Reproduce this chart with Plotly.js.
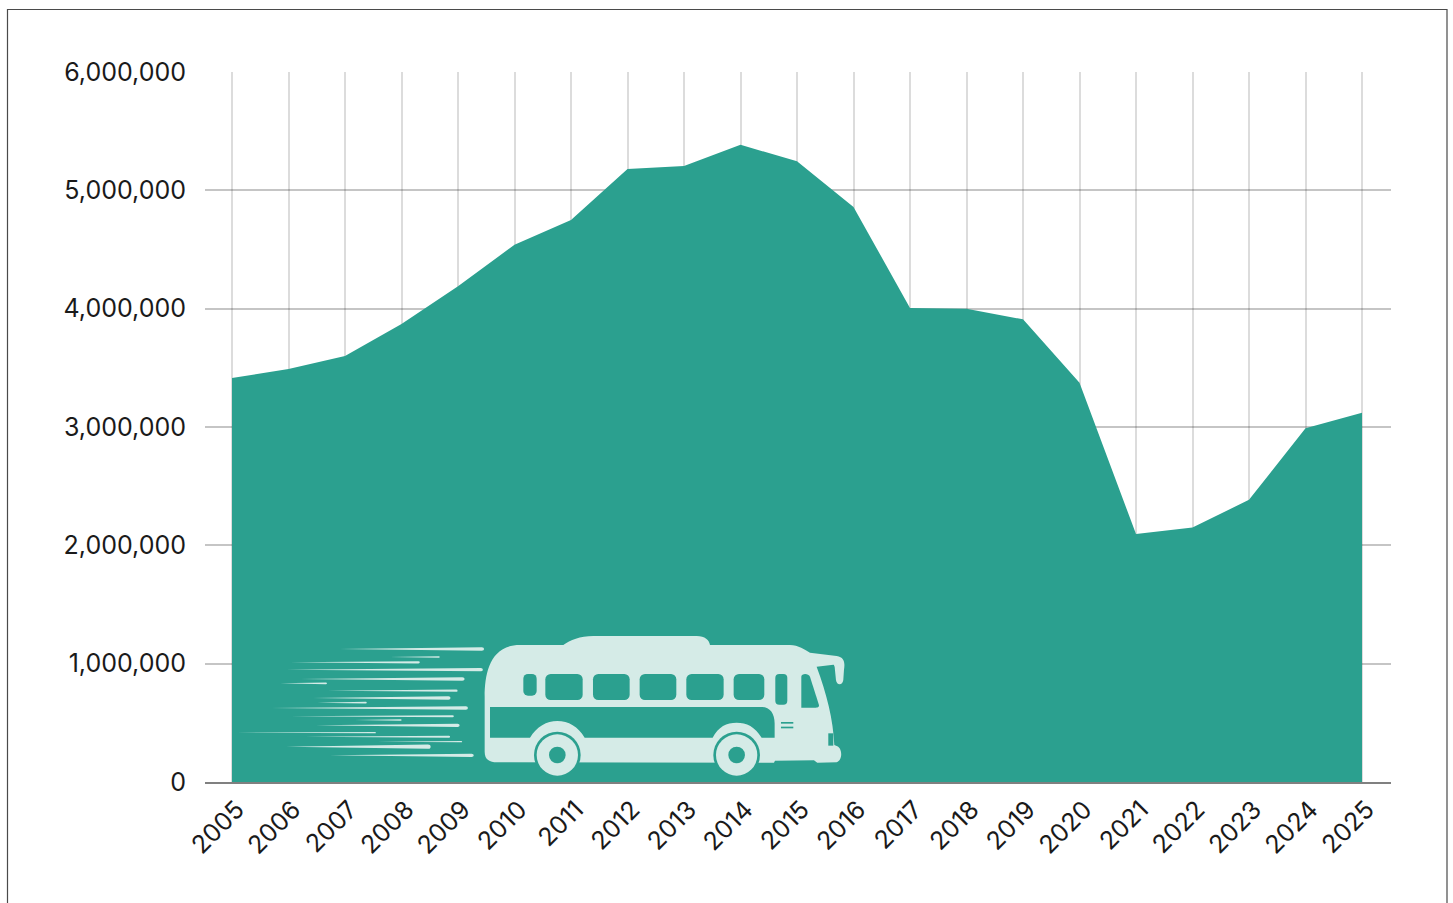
<!DOCTYPE html>
<html>
<head>
<meta charset="utf-8">
<script src="https://cdn.plot.ly/plotly-3.0.1.min.js"></script>
<style>html,body{margin:0;padding:0;background:#fff;overflow:hidden}#chart{width:1453px;height:903px}</style>
</head>
<body>
<div id="chart"></div>
<script>
const years = [2005,2006,2007,2008,2009,2010,2011,2012,2013,2014,2015,2016,2017,2018,2019,2020,2021,2022,2023,2024,2025];
const riders = [3414000,3490000,3600000,3870000,4190000,4540000,4750000,5180000,5205000,5385000,5245000,4860000,4006000,4000000,3910000,3375000,2095000,2150000,2385000,2990000,3120000];
const yTicks = [0,1000000,2000000,3000000,4000000,5000000,6000000];
const yLabels = ['0','1,000,000','2,000,000','3,000,000','4,000,000','5,000,000','6,000,000'];

const W = 1453, H = 903, L = 205, R = 1391, T = 72, B = 782;
const PW = R - L, PH = B - T;
const TEAL = '#2ba08f', PALE = '#d5ebe7';

// Decorative bus illustration (not data)
const streaks = [[290,637,87,11],[410,530,111,4],[170,482,127,7],[160,634,149,10],[195,590,177,11],[145,258,190,5],
  [260,573,212,7],[225,556,234,10],[235,354,248,5],[125,598,264,10],[170,564,289,6],[325,438,300,4],[230,578,316,10],
  [40,376,338,4],[205,555,350,6],[380,584,365,4],[160,508,380,13],[265,612,406,10]];
const streakSvg = streaks.map(([a,b,y,t]) => {
  const h = t/2;
  return `<path d="M${a} ${y} L${b-h} ${y-h} A${h} ${h} 0 0 1 ${b-h} ${y+h} Z"/>`;
}).join('');
const windows = [[130,132,40,65,14],[196,132,112,78,16],[339,132,110,78,16],[479,132,110,78,16],[619,132,112,78,16],[761,132,92,78,16],[886,132,36,92,12]];
const winSvg = windows.map(([x,y,w,h,r]) => `<rect x="${x}" y="${y}" width="${w}" height="${h}" rx="${r}"/>`).join('');
const wheel = cx => `<circle cx="${cx}" cy="375" r="70" fill="${TEAL}"/><circle cx="${cx}" cy="375" r="62" fill="${PALE}"/><circle cx="${cx}" cy="375" r="25" fill="${TEAL}"/>`;
const body = 'M14 365 L14 200 C14 130 30 45 120 45 L250 45 C270 30 300 18 340 18 L650 18 C675 18 688 30 690 45 L930 45 C955 45 975 60 990 68 L1070 78 C1095 82 1095 100 1092 120 L1090 150 C1088 167 1070 167 1068 150 L1065 120 C1065 108 1062 104 1060 104 L1010 110 C1040 190 1060 270 1063 345 L1072 349 C1087 355 1089 390 1070 397 L1012 398 L1002 391 L885 392 L882 398 L50 397 C30 396 14 390 14 365 Z';
const stripe = 'M30 231 L845 231 C870 231 884 250 884 280 L884 323 L845 323 C825 290 800 278 770 278 C740 278 715 290 698 323 L314 323 C295 290 265 273 232 273 C200 273 170 290 150 323 L30 323 Z';
const svg = `<svg xmlns="http://www.w3.org/2000/svg" width="650" height="170" viewBox="220 620 650 170">
<g fill="${PALE}" transform="translate(220 620) scale(0.4146 0.3333)">${streakSvg}</g>
<g transform="translate(480 630) scale(0.3333)">
<path d="${body}" fill="${PALE}"/>
<g fill="${TEAL}">${winSvg}
<path d="M964 140 C964 130 985 128 990 140 L1017 225 C1018 232 1012 233 1005 233 L964 233 Z"/>
<path d="${stripe}"/>
<rect x="903" y="276" width="37" height="5"/><rect x="903" y="290" width="37" height="5"/>
<rect x="1045" y="310" width="15" height="37"/></g>
${wheel(232)}${wheel(770)}
</g></svg>`;

const px = x => (x - L) / PW;
const py = y => (B - y) / PH;

const trace = {
  x: years, y: riders, type: 'scatter', mode: 'none',
  fill: 'tozeroy', fillcolor: TEAL, hoverinfo: 'x+y'
};
const font = {family: 'Inter, Lato, sans-serif', size: 25, color: '#1a1a1a', weight: 400};
const layout = {
  width: W, height: H,
  margin: {l: L, r: W - R, t: T, b: H - B, pad: 0},
  paper_bgcolor: '#fff', plot_bgcolor: '#fff',
  showlegend: false,
  xaxis: {
    range: [2005 - 27/56.5, 2025 + 29/56.5], tickmode: 'array', tickvals: years, ticktext: years.map(String),
    tickangle: -45, showgrid: true, gridcolor: 'rgba(40,40,40,0.16)', gridwidth: 2,
    showline: true, linecolor: '#808080', linewidth: 2, zeroline: false, ticks: '', tickfont: font,
    ticklabelstandoff: 1, ticklabelshift: 5
  },
  yaxis: {
    range: [0, 6000000], tickmode: 'array', tickvals: yTicks, ticktext: yLabels,
    showgrid: true, gridcolor: 'rgba(40,40,40,0.27)', gridwidth: 2,
    showline: false, zeroline: false, ticks: '', tickfont: font, ticklabelstandoff: 18
  },
  shapes: [{
    type: 'rect', xref: 'paper', yref: 'paper', layer: 'below',
    x0: px(7.5), x1: px(1447), y0: py(960), y1: py(9.5),
    line: {color: '#4a4a4a', width: 1.2}, fillcolor: 'rgba(0,0,0,0)'
  }],
  images: [{
    source: 'data:image/svg+xml;charset=utf-8,' + encodeURIComponent(svg),
    xref: 'paper', yref: 'paper', x: px(220), y: py(620),
    sizex: 650/PW, sizey: 170/PH, sizing: 'stretch',
    xanchor: 'left', yanchor: 'top', layer: 'above'
  }]
};
Plotly.newPlot('chart', [trace], layout, {displayModeBar: false, staticPlot: true});
</script>
</body>
</html>
